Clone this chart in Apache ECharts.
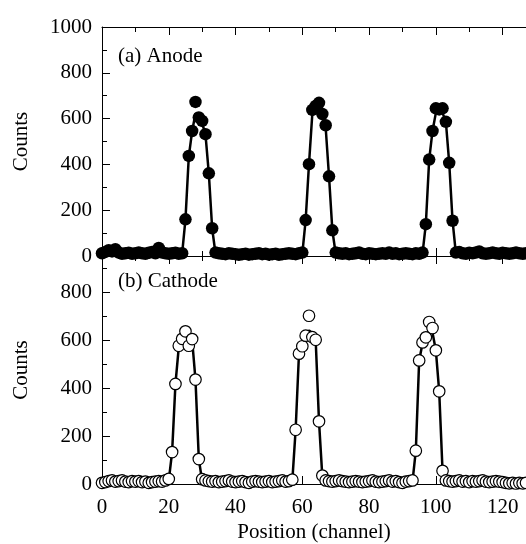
<!DOCTYPE html>
<html>
<head>
<meta charset="utf-8">
<script src="https://cdn.jsdelivr.net/npm/echarts@6/dist/echarts.min.js"></script>
<style>
html,body{margin:0;padding:0;background:#fff;}
#chart{width:526px;height:544px;}
</style>
</head>
<body>
<div id="chart"></div>
<script>
// Counts per channel (channel = array index 0..127)
const anodeCounts = [
  12,18,25,20,30,15,10,12,14,10,12,15,12,10,14,18,12,35,15,12,10,12,14,10,12,
  160,437,546,673,605,590,532,361,121,
  15,12,10,8,12,10,8,5,8,10,6,8,10,12,8,10,6,8,10,5,8,10,12,10,8,12,15,
  157,401,638,655,669,620,571,348,112,
  15,12,10,12,8,10,12,15,10,8,12,10,8,10,12,10,15,10,12,8,10,12,10,8,12,10,15,
  139,421,546,645,640,645,586,407,154,
  15,18,12,10,14,12,15,20,12,10,12,15,12,10,14,12,10,12,15,12,10,12
];
const cathodeCounts = [
  5,8,12,15,10,12,15,10,8,12,10,12,8,10,5,8,10,12,10,15,
  21,
  133,417,576,605,636,576,604,435,104,
  20,15,12,10,12,8,10,12,15,10,8,10,12,8,5,10,12,10,8,10,12,8,10,12,15,10,12,
  18,
  226,543,574,618,701,612,601,261,35,
  15,12,10,12,15,12,10,8,10,12,10,8,10,12,15,10,8,10,12,15,10,12,8,5,10,12,15,
  139,515,590,611,675,650,557,386,55,
  15,12,10,12,15,10,12,8,12,10,12,15,10,8,10,12,10,8,5,3,5,2,5,3,5
];
// Fitted curves [channel, counts]
const anodeFit = [[0,10],[24,10],[25,160],[26,435],[27,545],[28,622],[29,615],[30,580],[31,530],[32,360],[33,120],[34,10],
  [60,10],[61,157],[62,401],[63,622],[64,655],[65,640],[66,615],[67,560],[68,348],[69,112],[70,10],
  [96,10],[97,139],[98,421],[99,546],[100,625],[101,632],[102,625],[103,586],[104,407],[105,154],[106,10],[127,10]];
const cathodeFit = [[0,8],[20,15],[21,133],[22,417],[23,570],[24,615],[25,630],[26,620],[27,600],[28,435],[29,104],[30,12],
  [57,12],[58,226],[59,543],[60,574],[61,615],[62,640],[63,630],[64,601],[65,261],[66,30],[67,12],
  [93,10],[94,139],[95,515],[96,585],[97,620],[98,640],[99,630],[100,557],[101,386],[102,55],[103,12],[127,5]];
const xTicks = [0,20,40,60,80,100,120];
const anodeYTicks = [0,200,400,600,800,1000];
const cathodeYTicks = [0,200,400,600,800];
const panelLabels = ['(a) Anode','(b) Cathode'];
const xTitle = 'Position (channel)';
const yTitle = 'Counts';

const FONT = 'Liberation Serif, Times New Roman, serif';
const black = '#000';
const XMAX = 140;
const PX_PER_CH = 424 / 127;
const GRID_W = XMAX * PX_PER_CH;

function xAxisDef(grid, pos, labels){
  return {
    gridIndex: grid, type:'value', position: pos, min:0, max:XMAX, interval:20,
    axisLine:{show:true, onZero:false, lineStyle:{color:black, width:1}},
    axisTick:{show:true, inside:true, length:8, lineStyle:{color:black, width:1}},
    minorTick:{show:true, splitNumber:2, length:5, lineStyle:{color:black, width:1}},
    splitLine:{show:false},
    axisLabel:{show:labels, margin:13, fontFamily:FONT, fontSize:21, color:black,
      formatter: v => xTicks.indexOf(v) >= 0 ? String(v) : ''}
  };
}

const pairs = arr => arr.map((v,i) => [i, v]);

const chart = echarts.init(document.getElementById('chart'), null, {renderer:'canvas'});
chart.setOption({
  animation:false,
  backgroundColor:'#fff',
  grid:[
    {left:102, top:27, width:GRID_W, height:229, outerBoundsMode:'none', containLabel:false},
    {left:102, top:256, width:GRID_W, height:228, outerBoundsMode:'none', containLabel:false}
  ],
  xAxis:[
    xAxisDef(0,'bottom',false),
    xAxisDef(0,'top',false),
    xAxisDef(1,'top',false),
    xAxisDef(1,'bottom',true)
  ],
  yAxis:[
    {gridIndex:0, type:'value', position:'left', min:0, max:1000, interval:200,
      axisLine:{show:true, onZero:false, lineStyle:{color:black, width:1}},
      axisTick:{show:true, inside:true, length:8, lineStyle:{color:black}},
      minorTick:{show:true, splitNumber:2, length:5, lineStyle:{color:black}},
      splitLine:{show:false},
      axisLabel:{margin:10, fontFamily:FONT, fontSize:21, color:black,
        formatter: v => anodeYTicks.indexOf(v) >= 0 ? String(v) : ''},
      name:yTitle, nameLocation:'middle', nameGap:70, nameRotate:90,
      nameTextStyle:{fontFamily:FONT, fontSize:21, color:black}},
    {gridIndex:1, type:'value', position:'left', min:0, max:950, interval:200,
      axisLine:{show:true, onZero:false, lineStyle:{color:black, width:1}},
      axisTick:{show:true, inside:true, length:8, lineStyle:{color:black}},
      splitLine:{show:false},
      axisLabel:{margin:10, fontFamily:FONT, fontSize:21, color:black,
        formatter: v => cathodeYTicks.indexOf(v) >= 0 ? String(v) : ''},
      name:yTitle, nameLocation:'middle', nameGap:70, nameRotate:90,
      nameTextStyle:{fontFamily:FONT, fontSize:21, color:black}},
    {gridIndex:1, type:'value', position:'left', min:0, max:950, interval:100,
      axisLine:{show:false},
      axisTick:{show:true, inside:true, length:5, lineStyle:{color:black}},
      splitLine:{show:false}, axisLabel:{show:false}}
  ],
  graphic:[
    {type:'text', left:118, top:46, style:{text:panelLabels[0], font:'21px ' + FONT, fill:black}},
    {type:'text', left:118, top:271, style:{text:panelLabels[1], font:'21px ' + FONT, fill:black}},
    {type:'text', x:314, y:532, style:{text:xTitle, font:'21px ' + FONT, fill:black, align:'center', verticalAlign:'middle'}}
  ],
  series:[
    {type:'line', xAxisIndex:0, yAxisIndex:0, data:anodeFit, showSymbol:false,
      lineStyle:{color:black, width:2.5}, z:2},
    {type:'scatter', xAxisIndex:0, yAxisIndex:0, data:pairs(anodeCounts), symbol:'circle', symbolSize:12.5,
      itemStyle:{color:black, opacity:1}, clip:false, z:3},
    {type:'line', xAxisIndex:3, yAxisIndex:1, data:cathodeFit, showSymbol:false,
      lineStyle:{color:black, width:2.5}, z:2},
    {type:'scatter', xAxisIndex:3, yAxisIndex:1, data:pairs(cathodeCounts), symbol:'circle', symbolSize:11.5,
      itemStyle:{color:'#fff', borderColor:black, borderWidth:1.2, opacity:1}, clip:false, z:3}
  ]
});
</script>
</body>
</html>
